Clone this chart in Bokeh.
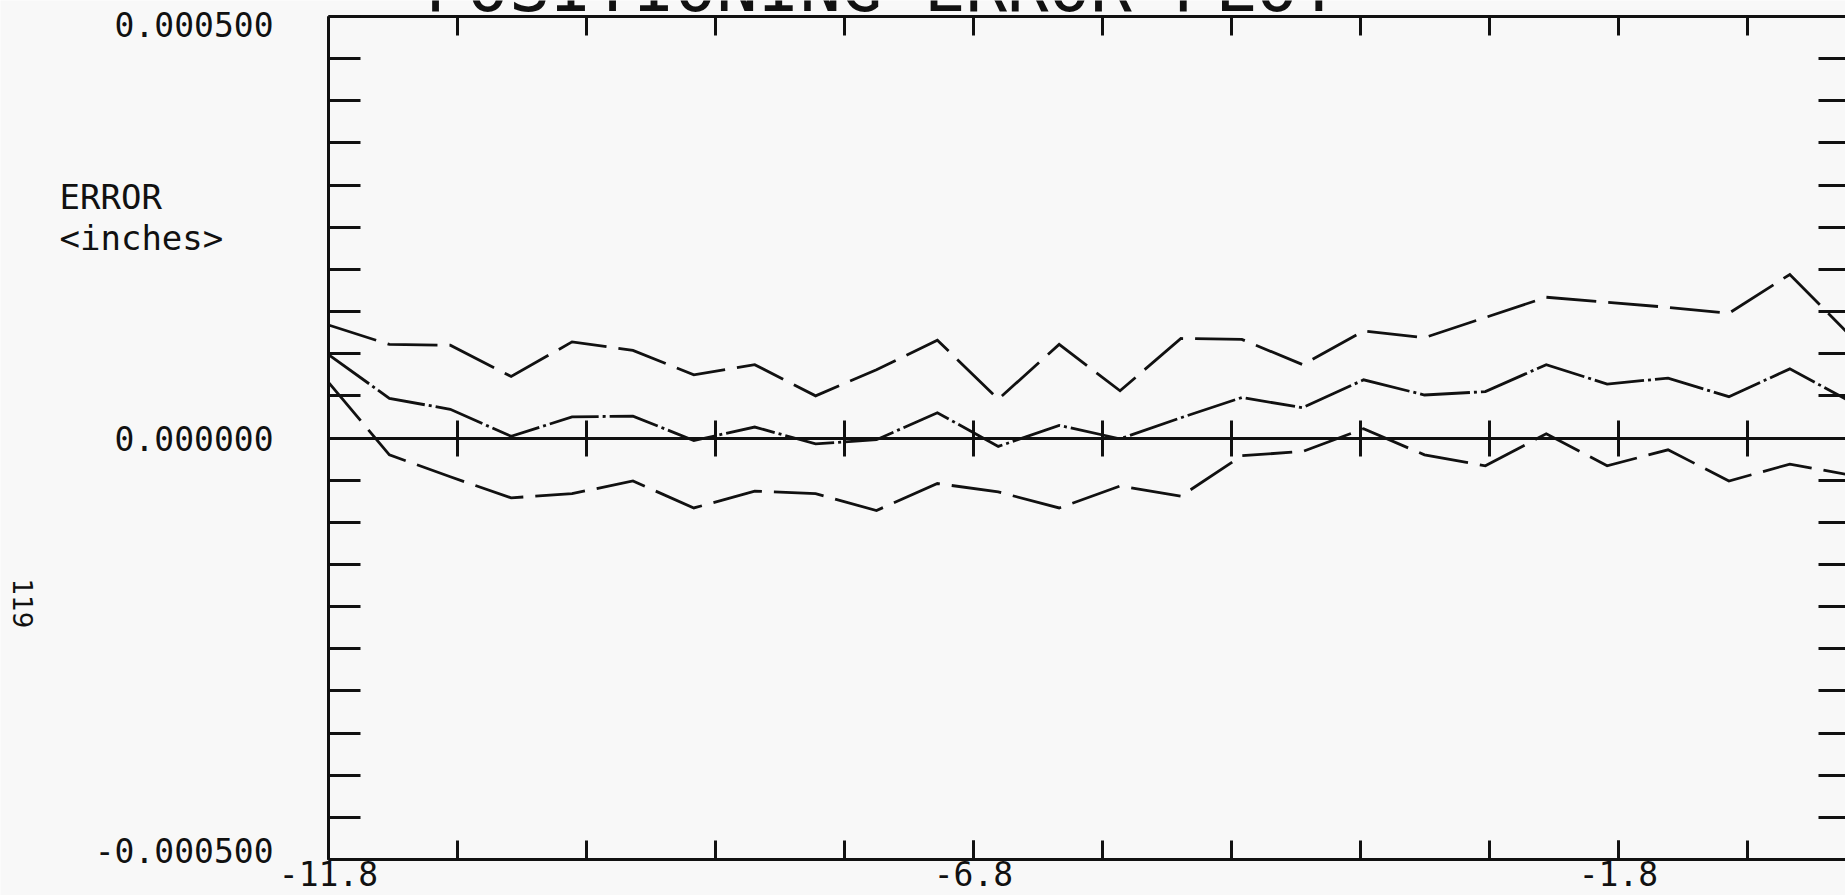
import math
from bokeh.plotting import figure
from bokeh.models import LinearAxis, FixedTicker, PrintfTickFormatter, Label, Range1d, ColumnDataSource
from bokeh.core.properties import value
from bokeh.embed import file_html
from bokeh.resources import INLINE

# ---- data (inches) ----
position = [-11.8, -11.328, -10.856, -10.384, -9.912, -9.44, -8.968, -8.496, -8.024,
            -7.552, -7.08, -6.608, -6.136, -5.664, -5.192, -4.72, -4.248, -3.776,
            -3.304, -2.832, -2.36, -1.888, -1.416, -0.944, -0.472, 0.0]
upper = [0.000134, 0.000111, 0.000110, 0.000073, 0.000114, 0.000104, 0.000075, 0.000087,
         0.000050, 0.000081, 0.000116, 0.000046, 0.000111, 0.000056, 0.000118, 0.000117,
         0.000087, 0.000127, 0.000119, 0.000143, 0.000167, 0.000161, 0.000155, 0.000148,
         0.000194, 0.000121]
middle = [0.000099, 0.000047, 0.000034, 0.000002, 0.000025, 0.000026, -0.000003, 0.000013,
          -0.000007, -0.000002, 0.000030, -0.000010, 0.000015, -0.000001, 0.000024, 0.000048,
          0.000036, 0.000069, 0.000051, 0.000055, 0.000087, 0.000064, 0.000071, 0.000049,
          0.000082, 0.000043]
lower = [0.000066, -0.000020, -0.000046, -0.000071, -0.000066, -0.000051, -0.000083, -0.000063,
         -0.000066, -0.000086, -0.000054, -0.000064, -0.000083, -0.000057, -0.000069, -0.000021,
         -0.000016, 0.000011, -0.000020, -0.000033, 0.000005, -0.000033, -0.000014, -0.000051,
         -0.000031, -0.000044]

x_major = [-11.8, -6.8, -1.8]
x_minor = [-11.8, -10.8, -9.8, -8.8, -7.8, -6.8, -5.8, -4.8, -3.8, -2.8, -1.8, -0.8]
y_major = [-0.0005, 0.0, 0.0005]
y_tick_labels = ["-0.000500", "0.000000", "0.000500"]
y_minor = [round(-0.0005 + 0.00005 * k, 6) for k in range(21)]

title_text = "POSITIONING ERROR PLOT"
ylabel_1 = "ERROR"
ylabel_2 = "<inches>"
page_no = "119"

# ---- layout (pixels of the 1845x895 page) ----
W, H = 1845, 895
AX_LEFT, AX_TOP, AX_BOTTOM = 328, 16, 859
X0, X_AXIS_END = -11.8, 0.0
Y0, Y1 = -0.0005, 0.0005
PX_X = 129.0                                 # pixels per x unit
PX_Y = (AX_BOTTOM - AX_TOP) / (Y1 - Y0)      # pixels per y unit

x_lo = X0 - AX_LEFT / PX_X
x_hi = X0 + (W - AX_LEFT) / PX_X
y_hi = Y1 + AX_TOP / PX_Y
y_lo = Y0 - (H - AX_BOTTOM) / PX_Y

INK = "#111111"
BG = "#f8f8f8"
MONO = "DejaVu Sans Mono"
SANS = "DejaVu Sans"
y_label_nudge = [-9, 0, 8]      # px shift of the three y tick labels (down is positive)

def sx(px):
    return X0 + (px - AX_LEFT) / PX_X

def sy(py):
    return Y1 - (py - AX_TOP) / PX_Y

p = figure(width=W, height=H, output_backend="svg", toolbar_location=None, tools="",
           x_range=Range1d(x_lo, x_hi), y_range=Range1d(y_lo, y_hi),
           x_axis_location=None, y_axis_location=None,
           background_fill_color=BG, border_fill_color=BG,
           min_border_left=0, min_border_right=0, min_border_top=0, min_border_bottom=0)
p.outline_line_color = None
p.grid.grid_line_color = None

def style_axis(ax, tick_in, tick_out, line=True):
    ax.axis_line_color = INK if line else None
    ax.axis_line_width = 3
    ax.major_tick_line_color = INK
    ax.minor_tick_line_color = INK
    ax.major_tick_line_width = 3
    ax.minor_tick_line_width = 3
    ax.major_tick_in = tick_in
    ax.major_tick_out = tick_out
    ax.minor_tick_in = tick_in
    ax.minor_tick_out = tick_out
    ax.major_label_text_color = INK
    ax.major_label_text_font = MONO
    ax.major_label_text_font_size = "33px"

left = LinearAxis(fixed_location=X0, bounds=(Y0, Y1),
                  ticker=FixedTicker(ticks=[], minor_ticks=y_minor))
style_axis(left, 32, 0)
p.add_layout(left, "left")

right = LinearAxis(fixed_location=X_AXIS_END, bounds=(Y0, Y1),
                   ticker=FixedTicker(ticks=[], minor_ticks=y_minor))
style_axis(right, 32, 0, line=False)
p.add_layout(right, "right")

bottom = LinearAxis(fixed_location=Y0, bounds=(X0, X_AXIS_END),
                    ticker=FixedTicker(ticks=x_major, minor_ticks=x_minor),
                    formatter=PrintfTickFormatter(format="%.1f"))
style_axis(bottom, 19, 0)
bottom.major_label_standoff = 1
p.add_layout(bottom, "below")

top = LinearAxis(fixed_location=Y1, bounds=(X0, X_AXIS_END),
                 ticker=FixedTicker(ticks=[], minor_ticks=x_minor))
style_axis(top, 19, 0)
p.add_layout(top, "above")

zero = LinearAxis(fixed_location=0.0, bounds=(X0, X_AXIS_END),
                  ticker=FixedTicker(ticks=[], minor_ticks=x_minor))
style_axis(zero, 18, 18)
p.add_layout(zero, "below")

# y tick labels (kept inside the page as in the reference)
ysrc = ColumnDataSource(dict(x=[X0] * len(y_major), y=y_major, text=y_tick_labels, dy=y_label_nudge))
p.text(x="x", y="y", text="text", source=ysrc, x_offset=-55, y_offset="dy",
       text_align="right", text_baseline="middle", text_font=value(MONO),
       text_font_size=value("33px"), text_color=INK)

src = ColumnDataSource(dict(position=position, upper=upper, middle=middle, lower=lower))
p.line("position", "upper", source=src, line_color=INK, line_width=2.8, line_dash="50 12", line_join="miter")
p.line("position", "middle", source=src, line_color=INK, line_width=2.8, line_dash="50 4 3 4", line_join="miter")
p.line("position", "lower", source=src, line_color=INK, line_width=2.8, line_dash="50 12", line_join="miter")

p.add_layout(Label(x=sx(882), y=sy(-14), text=title_text, text_align="center", text_baseline="middle",
                   text_font=MONO, text_font_size="69px", text_color=INK))
p.add_layout(Label(x=sx(59), y=sy(196), text=ylabel_1, text_align="left", text_baseline="middle",
                   text_font=MONO, text_font_size="34px", text_color=INK))
p.add_layout(Label(x=sx(59), y=sy(237), text=ylabel_2, text_align="left", text_baseline="middle",
                   text_font=MONO, text_font_size="34px", text_color=INK))
p.add_layout(Label(x=sx(22), y=sy(603), text=page_no, text_align="center", text_baseline="middle",
                   angle=-math.pi / 2, text_font=SANS, text_font_size="26px", text_color=INK))

open("out.html", "w").write(file_html(p, INLINE))
